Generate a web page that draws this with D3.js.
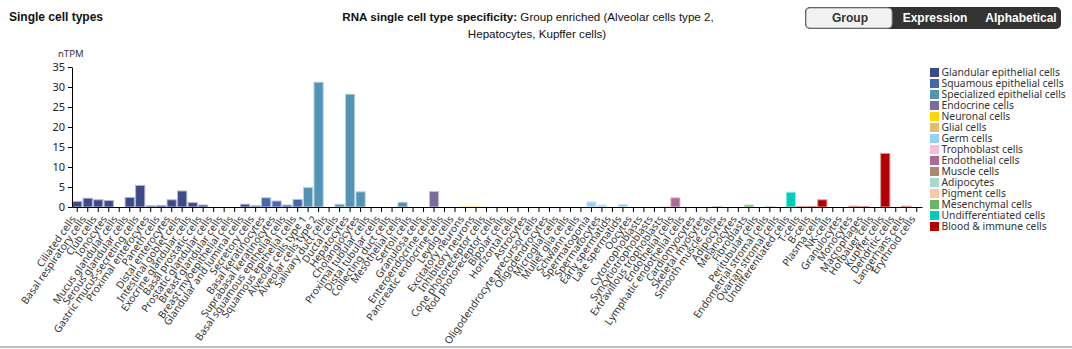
<!doctype html>
<html lang="en">
<head>
<meta charset="utf-8">
<title>Single cell types</title>
<script src="https://cdn.jsdelivr.net/npm/d3@7"></script>
<style>
  body { margin: 0; background: #fff; font-family: 'Liberation Sans', Arial, sans-serif; }
  svg { display: block; }
  .ui { font-family: 'Noto Sans', 'Segoe UI', sans-serif; }
</style>
</head>
<body>
<svg id="chart" width="1072" height="349"></svg>
<script>
// cell types in group order, as listed on the x axis
const cellTypes = [
  "Ciliated cells", "Basal respiratory cells", "Club cells", "Ionocytes", "Mucus glandular cells",
  "Serous glandular cells", "Gastric mucus-secreting cells", "Proximal enterocytes", "Paneth cells",
  "Distal enterocytes", "Intestinal goblet cells", "Exocrine glandular cells", "Basal prostatic cells",
  "Prostatic glandular cells", "Breast glandular cells", "Breast myoepithelial cells",
  "Glandular and luminal cells", "Secretory cells",
  "Basal keratinocytes", "Suprabasal keratinocytes", "Basal squamous epithelial cells", "Squamous epithelial cells",
  "Alveolar cells type 1", "Alveolar cells type 2", "Salivary duct cells", "Ductal cells", "Hepatocytes",
  "Cholangiocytes", "Proximal tubular cells", "Distal tubular cells", "Collecting duct cells",
  "Mesothelial cells", "Sertoli cells", "Granulosa cells",
  "Enteroendocrine cells", "Pancreatic endocrine cells", "Leydig cells",
  "Excitatory neurons", "Inhibitory neurons", "Cone photoreceptor cells", "Rod photoreceptor cells",
  "Bipolar cells", "Horizontal cells",
  "Astrocytes", "Oligodendrocyte precursor cells", "Oligodendrocytes", "Microglial cells",
  "Muller glia cells", "Schwann cells",
  "Spermatogonia", "Spermatocytes", "Early spermatids", "Late spermatids", "Oocytes",
  "Cytotrophoblasts", "Syncytiotrophoblasts", "Extravillous trophoblasts",
  "Endothelial cells", "Lymphatic endothelial cells",
  "Cardiomyocytes", "Skeletal myocytes", "Smooth muscle cells",
  "Adipocytes", "Melanocytes",
  "Fibroblasts", "Peritubular cells", "Endometrial stromal cells", "Ovarian stromal cells",
  "Undifferentiated cells",
  "T-cells", "B-cells", "Plasma cells", "NK-cells", "Granulocytes", "Monocytes", "Macrophages",
  "Hofbauer cells", "Kupffer cells", "Dendritic cells", "Langerhans cells", "Erythroid cells"
];

// nTPM per cell type
const nTPM = [
  1.4, 2.2, 1.8, 1.6, 0, 2.4, 5.4, 0.3, 0.4, 1.8, 4.0, 1.1, 0.5, 0, 0, 0, 0.7, 0.3,
  2.3, 1.5, 0.5, 1.9,
  4.9, 31.2, 0, 0.7, 28.2, 3.8, 0, 0, 0, 1.2, 0, 0,
  3.9, 0, 0,
  0.1, 0.1, 0, 0, 0, 0,
  0, 0, 0, 0, 0, 0,
  1.3, 0.5, 0, 0.7, 0,
  0, 0, 0.1,
  2.3, 0,
  0, 0, 0.15,
  0, 0,
  0.5, 0, 0.1, 0,
  3.7,
  0.1, 0.1, 1.8, 0, 0, 0.2, 0.1, 0, 13.4, 0, 0.2, 0
];

// group index of each cell type
const cellGroup = [
  0, 0, 0, 0, 0, 0, 0, 0, 0, 0, 0, 0, 0, 0, 0, 0, 0, 0,
  1, 1, 1, 1,
  2, 2, 2, 2, 2, 2, 2, 2, 2, 2, 2, 2,
  3, 3, 3,
  4, 4, 4, 4, 4, 4,
  5, 5, 5, 5, 5, 5,
  6, 6, 6, 6, 6,
  7, 7, 7,
  8, 8,
  9, 9, 9,
  10, 11,
  12, 12, 12, 12,
  13,
  14, 14, 14, 14, 14, 14, 14, 14, 14, 14, 14, 14
];

const groupNames = [
  "Glandular epithelial cells", "Squamous epithelial cells", "Specialized epithelial cells",
  "Endocrine cells", "Neuronal cells", "Glial cells", "Germ cells", "Trophoblast cells",
  "Endothelial cells", "Muscle cells", "Adipocytes", "Pigment cells", "Mesenchymal cells",
  "Undifferentiated cells", "Blood & immune cells"
];
const groupColors = [
  "#3e4a87", "#4468b0", "#5393b4", "#7f6a9e", "#ffd700", "#e2bd6b", "#96d3f2", "#f8bbd8",
  "#ae6a97", "#ab8872", "#a7dacc", "#fbc6ae", "#68b868", "#00cdb9", "#b10000"
];

const yTicks = [0, 5, 10, 15, 20, 25, 30, 35];

const svg = d3.select("#chart");
const x0 = 72, x1 = 922, yTop = 67, yBase = 207;

const x = d3.scaleBand().domain(cellTypes).range([x0, x1]).paddingInner(0.12).paddingOuter(0.06);
const y = d3.scaleLinear().domain([0, 35]).range([yBase, yTop]);

// header
svg.append("text").attr("x", 9).attr("y", 21)
  .attr("font-size", 12).attr("font-weight", "bold").attr("fill", "#111")
  .text("Single cell types");

const t1 = svg.append("text").attr("x", 528).attr("y", 21).attr("text-anchor", "middle")
  .attr("font-size", 11.6).attr("fill", "#111");
t1.append("tspan").attr("font-weight", "bold").text("RNA single cell type specificity:");
t1.append("tspan").text(" Group enriched (Alveolar cells type 2,");
svg.append("text").attr("x", 537).attr("y", 38).attr("text-anchor", "middle")
  .attr("font-size", 11.6).attr("fill", "#111").text("Hepatocytes, Kupffer cells)");

// sort buttons
const btn = svg.append("g");
btn.append("rect").attr("x", 805).attr("y", 7).attr("width", 256).attr("height", 22)
  .attr("rx", 5).attr("fill", "#333");
btn.append("rect").attr("x", 806).attr("y", 8).attr("width", 86).attr("height", 20)
  .attr("rx", 4).attr("fill", "#f2f2f2").attr("stroke", "#9a9a9a");
btn.append("text").attr("x", 850).attr("y", 22).attr("text-anchor", "middle")
  .attr("font-size", 12).attr("font-weight", "bold").attr("fill", "#333").text("Group");
btn.append("text").attr("x", 935).attr("y", 22).attr("text-anchor", "middle")
  .attr("font-size", 12).attr("font-weight", "bold").attr("fill", "#fff").text("Expression");
btn.append("text").attr("x", 1021).attr("y", 22).attr("text-anchor", "middle")
  .attr("font-size", 12).attr("font-weight", "bold").attr("fill", "#fff").text("Alphabetical");

// bars
svg.append("g").selectAll("rect")
  .data(cellTypes)
  .enter()
  .append("rect")
  .attr("x", d => x(d))
  .attr("y", (d, i) => y(nTPM[i]))
  .attr("width", x.bandwidth())
  .attr("height", (d, i) => yBase - y(nTPM[i]))
  .attr("fill", (d, i) => groupColors[cellGroup[i]])
  .attr("stroke", (d, i) => d3.interpolateRgb(groupColors[cellGroup[i]], "#fff")(0.6))
  .attr("stroke-width", 1);

// y axis
const yAxis = svg.append("g")
  .attr("transform", `translate(${x0},0)`)
  .call(d3.axisLeft(y).tickValues(yTicks).tickSize(4).tickSizeOuter(0));
yAxis.selectAll("text").attr("font-size", 11).attr("fill", "#222").attr("font-family", "'Noto Sans', sans-serif");
yAxis.selectAll("line, path").attr("stroke", "#000");

svg.append("text").attr("class", "ui").attr("x", 58).attr("y", 57)
  .attr("font-size", 9.5).attr("fill", "#333").text("nTPM");

// x axis
const xAxis = svg.append("g")
  .attr("transform", `translate(0,${yBase})`)
  .call(d3.axisBottom(x).tickSize(5).tickSizeOuter(0));
xAxis.selectAll("line, path").attr("stroke", "#000");
const xLabels = xAxis.selectAll("text")
  .attr("font-family", "'Noto Sans', sans-serif")
  .attr("font-size", 10).attr("fill", "#333")
  .attr("text-anchor", "end")
  .attr("x", 0).attr("y", 0)
  .attr("dy", "0.35em")
  .attr("transform", "translate(-4,10) rotate(-55)");

// size the labels so "Oligodendrocyte precursor cells" matches its length in the reference
const probe = xLabels.filter(d => d === "Oligodendrocyte precursor cells").node();
const probeLen = probe ? probe.getComputedTextLength() : 0;
if (probeLen > 0) xLabels.attr("font-size", 10 * 154 / probeLen);

// legend
svg.append("clipPath").attr("id", "legclip")
  .append("rect").attr("x", 925).attr("y", 60).attr("width", 141).attr("height", 180);
const leg = svg.append("g").attr("clip-path", "url(#legclip)");
const rows = leg.selectAll("g").data(groupNames).enter().append("g")
  .attr("transform", (d, i) => `translate(930,${68 + i * 11})`);
rows.append("rect").attr("width", 9).attr("height", 9).attr("fill", (d, i) => groupColors[i]);
rows.append("text").attr("class", "ui").attr("x", 11.5).attr("y", 8)
  .attr("font-size", 10.3).attr("fill", "#333").text(d => d);

// bottom border
svg.append("line").attr("x1", 0).attr("x2", 1072).attr("y1", 347).attr("y2", 347)
  .attr("stroke", "#aaa").attr("stroke-width", 1.5);
</script>
</body>
</html>
